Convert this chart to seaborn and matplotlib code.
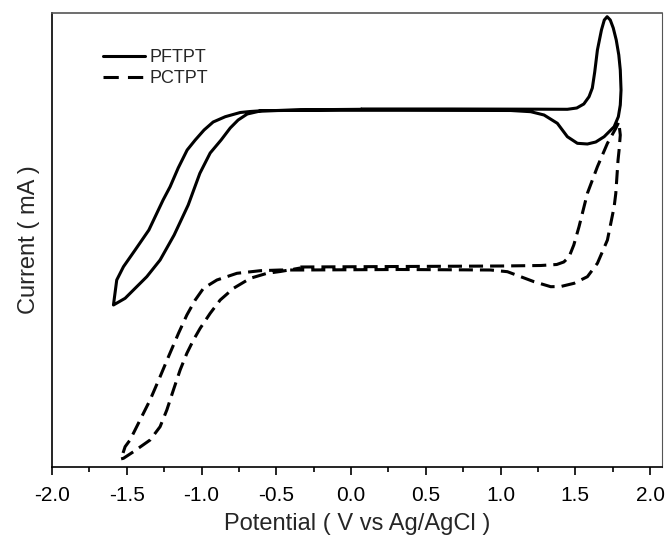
import matplotlib
matplotlib.use("Agg")
import matplotlib.pyplot as plt
import numpy as np
import pandas as pd
import seaborn as sns
from matplotlib.lines import Line2D

# ---- data (current in arbitrary units) ----
pftpt_potential = [0.070, 0.666, 1.269, 1.447, 1.510, 1.557, 1.592, 1.614, 1.630, 1.648,
                   1.675, 1.694, 1.713, 1.734, 1.754, 1.774, 1.791, 1.801, 1.806, 1.801,
                   1.788, 1.760, 1.693, 1.637, 1.581, 1.514, 1.447, 1.380, 1.291, 1.202,
                   1.068, 0.331, -0.339, -0.593, -0.674, -0.741, -0.841, -0.922, -0.983, -1.042,
                   -1.096, -1.156, -1.210, -1.257, -1.352, -1.444, -1.522, -1.567, -1.589, -1.511,
                   -1.366, -1.277, -1.183, -1.089, -1.011, -0.942, -0.869, -0.808, -0.755, -0.694,
                   -0.607, -0.339, 0.070]
pftpt_current = [3.580, 3.580, 3.578, 3.577, 3.590, 3.630, 3.703, 3.790, 3.950, 4.170,
                 4.370, 4.470, 4.503, 4.470, 4.390, 4.270, 4.120, 3.970, 3.770, 3.620,
                 3.503, 3.403, 3.303, 3.250, 3.230, 3.237, 3.303, 3.437, 3.520, 3.553,
                 3.565, 3.567, 3.567, 3.563, 3.555, 3.545, 3.503, 3.450, 3.370, 3.270,
                 3.170, 2.990, 2.803, 2.670, 2.370, 2.170, 2.003, 1.870, 1.620, 1.687,
                 1.903, 2.070, 2.320, 2.620, 2.937, 3.140, 3.270, 3.390, 3.470, 3.530,
                 3.560, 3.572, 3.577]

pctpt_potential = [-0.339, 0.331, 1.001, 1.269, 1.376, 1.423, 1.458, 1.490, 1.525, 1.581,
                   1.648, 1.715, 1.771, 1.791, 1.801, 1.793, 1.786, 1.771, 1.760, 1.715,
                   1.648, 1.581, 1.492, 1.403, 1.336, 1.224, 1.135, 1.046, 0.934, 0.331,
                   -0.339, -0.473, -0.607, -0.763, -0.897, -0.987, -1.042, -1.098, -1.154, -1.221,
                   -1.277, -1.344, -1.411, -1.478, -1.511, -1.533, -1.541, -1.522, -1.455, -1.344,
                   -1.277, -1.232, -1.188, -1.143, -1.098, -1.054, -1.009, -0.942, -0.875, -0.786,
                   -0.674, -0.562, -0.473, -0.339]
pctpt_current = [2.000, 2.005, 2.010, 2.015, 2.025, 2.050, 2.100, 2.220, 2.403, 2.737,
                 3.003, 3.237, 3.387, 3.450, 3.320, 3.170, 3.070, 2.737, 2.603, 2.270,
                 2.037, 1.903, 1.837, 1.805, 1.803, 1.853, 1.903, 1.953, 1.970, 1.975,
                 1.970, 1.970, 1.963, 1.937, 1.870, 1.787, 1.670, 1.520, 1.337, 1.103,
                 0.903, 0.670, 0.470, 0.270, 0.203, 0.103, 0.080, 0.087, 0.153, 0.270,
                 0.403, 0.570, 0.770, 0.970, 1.137, 1.270, 1.387, 1.537, 1.670, 1.787,
                 1.887, 1.937, 1.955, 1.990]

series_names = ["PFTPT", "PCTPT"]
x_ticks = [-2.0, -1.5, -1.0, -0.5, 0.0, 0.5, 1.0, 1.5, 2.0]
x_ticklabels = ["-2.0", "-1.5", "-1.0", "-0.5", "0.0", "0.5", "1.0", "1.5", "2.0"]

# ---- styling ----
sns.set_style("ticks")
plt.rcParams["font.family"] = ["Liberation Sans", "DejaVu Sans"]
plt.rcParams["axes.unicode_minus"] = False

df_f = pd.DataFrame({"Potential": pftpt_potential, "Current": pftpt_current})
df_c = pd.DataFrame({"Potential": pctpt_potential, "Current": pctpt_current})

fig = plt.figure(figsize=(6.66, 5.38), dpi=100)
ax = fig.add_axes([52 / 666, 1 - 467 / 538, (662 - 52) / 666, (467 - 13) / 538])

LW = 2.2
sns.lineplot(data=df_f, x="Potential", y="Current", sort=False, estimator=None,
             color="black", linewidth=LW, label=series_names[0], ax=ax, legend=False)
sns.lineplot(data=df_c, x="Potential", y="Current", sort=False, estimator=None,
             color="black", linewidth=LW, label=series_names[1], ax=ax, legend=False)
for ln in ax.lines:
    ln.set_solid_joinstyle("round")
ax.lines[1].set_dashes((4.6, 2.3))

ax.set_xlim(-2.0, 2.08)
ax.set_ylim(0, 4.54)
ax.set_xticks(x_ticks)
ax.set_xticklabels(x_ticklabels)
ax.set_xticks(np.arange(-1.75, 2.0, 0.5), minor=True)
ax.set_yticks([])
ax.tick_params(axis="x", which="major", direction="out", length=6, width=1.2,
               labelsize=15, pad=7.5, color="black", labelcolor="black")
ax.tick_params(axis="x", which="minor", direction="out", length=3.5, width=1.2, color="black")

for side, sp in ax.spines.items():
    sp.set_visible(True)
    sp.set_color("black")
    sp.set_linewidth(1.2)
ax.spines["top"].set_color("#555555")
ax.spines["right"].set_color("#555555")
ax.spines["right"].set_linewidth(0.8)

ax.set_xlabel("Potential ( V vs Ag/AgCl )", fontsize=17, labelpad=6)
ax.set_ylabel("Current ( mA )", fontsize=17, labelpad=9)

handles = [Line2D([], [], color="black", linewidth=LW),
           Line2D([], [], color="black", linewidth=LW, dashes=(5.0, 3.0))]
ax.legend(handles, series_names, loc="upper left", bbox_to_anchor=((103 - 52) / 610, 0.921),
          frameon=False, fontsize=13, handlelength=2.3, handletextpad=0.28,
          labelspacing=0.25, borderpad=0, borderaxespad=0)

fig.savefig("out.png", dpi=100)
